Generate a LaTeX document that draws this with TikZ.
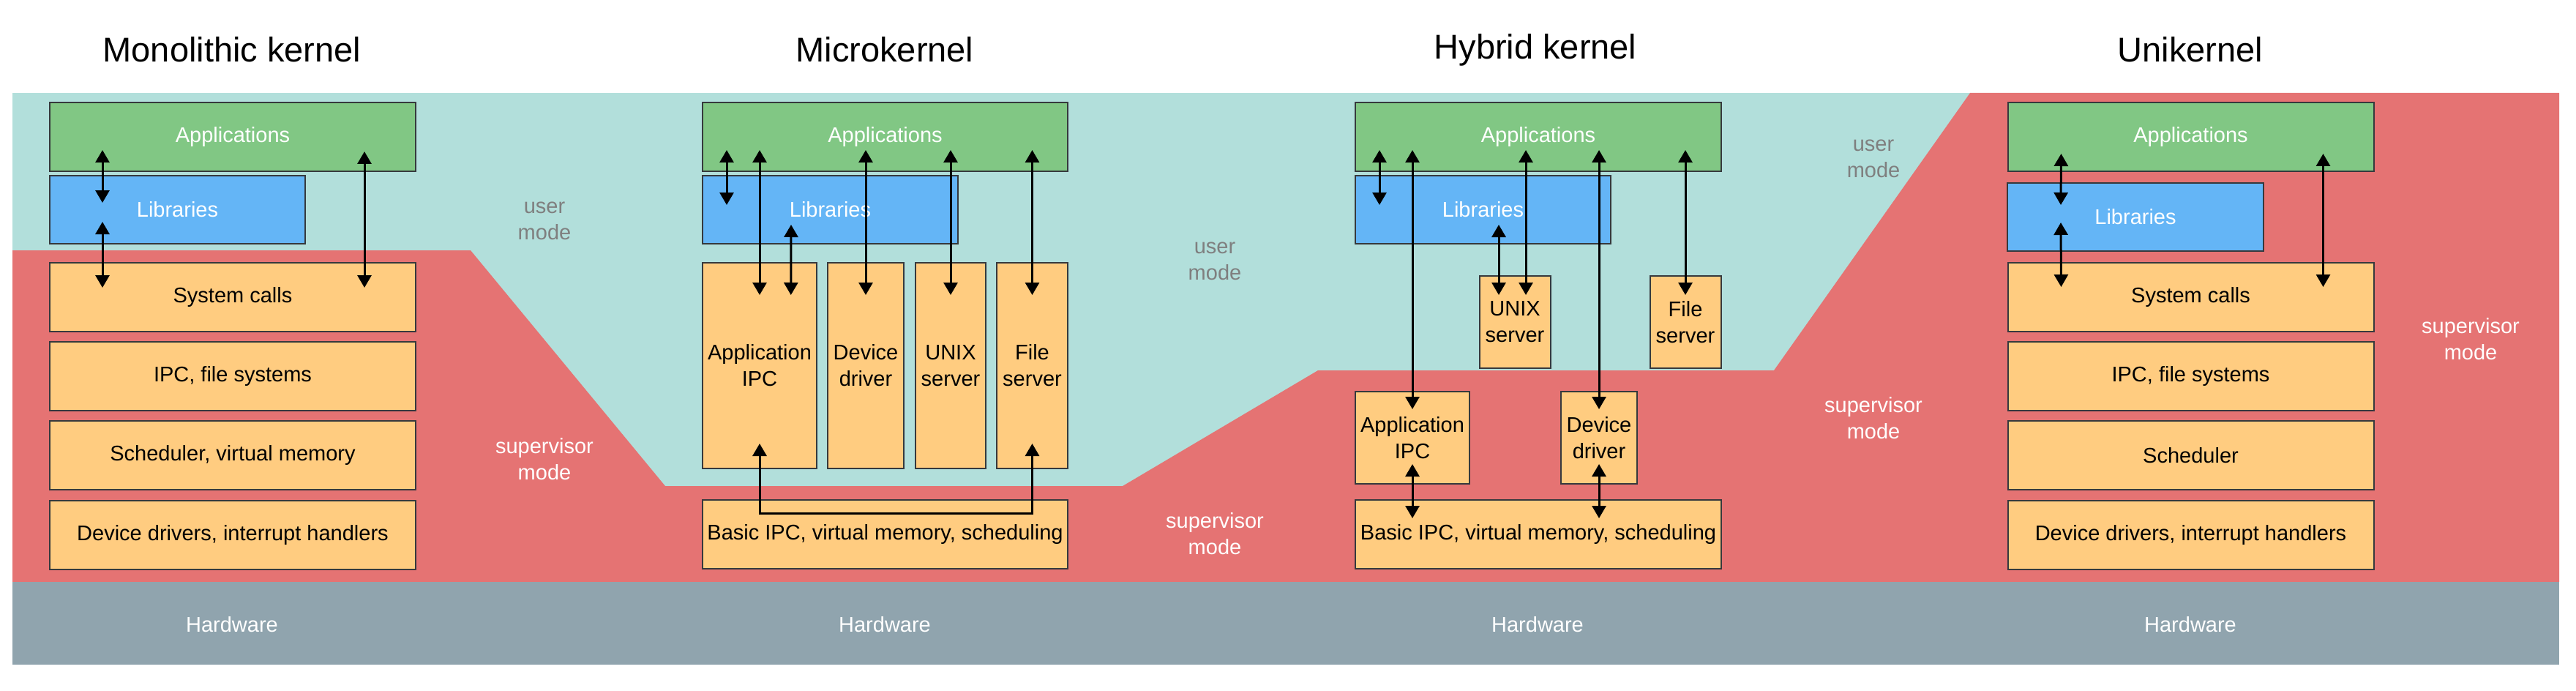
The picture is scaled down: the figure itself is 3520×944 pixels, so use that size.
\documentclass[tikz,border=0pt]{standalone}
\usepackage{fontspec}
\setmainfont{Liberation Sans}
\usetikzlibrary{arrows.meta,calc}
\definecolor{cyanbg}{HTML}{B2DFDB}
\definecolor{redbg}{HTML}{E57373}
\definecolor{hwgray}{HTML}{90A4AE}
\definecolor{appgreen}{HTML}{81C784}
\definecolor{libblue}{HTML}{64B5F6}
\definecolor{kerorange}{HTML}{FFCC80}
\definecolor{boxline}{HTML}{36393D}
\definecolor{modegray}{HTML}{7F7F7F}
\tikzset{
  bx/.style={draw=boxline, line width=2pt, inner sep=0pt, outer sep=0pt, align=center, font=\fontsize{29}{36}\selectfont},
  appbox/.style={bx, fill=appgreen, text=white},
  libbox/.style={bx, fill=libblue, text=white},
  kbox/.style={bx, fill=kerorange, text=black},
  sz/.style 2 args={minimum width=#1pt, minimum height=#2pt},
  dbl/.style={{Triangle[width=19pt,length=17pt]}-{Triangle[width=19pt,length=17pt]}, line width=3pt, black},
  titlelbl/.style={font=\fontsize{47}{56}\selectfont, anchor=base, inner sep=0pt},
  usermode/.style={text=modegray, align=center, inner sep=0pt, font=\fontsize{29}{36}\selectfont},
  supmode/.style={text=white, align=center, inner sep=0pt, font=\fontsize{29}{36}\selectfont},
  hwlbl/.style={text=white, inner sep=0pt, font=\fontsize{29}{36}\selectfont}
}
\begin{document}
\begin{tikzpicture}[x=1pt,y=-1pt]
\useasboundingbox (0,0) rectangle (3520,944);
% backgrounds
\fill[cyanbg] (17,127) rectangle (3497,795);
\fill[redbg] (17,342) -- (643,342) -- (909,664) -- (1534,664) -- (1801,506) -- (2424,506) -- (2692,127) -- (3497,127) -- (3497,795) -- (17,795) -- cycle;
\fill[hwgray] (17,795) rectangle (3497,908);

% titles
\node[titlelbl] (t1) at (317,85) {Monolithic kernel};
\node[titlelbl] (t2) at (1209,85) {Microkernel};
\node[titlelbl] (t3) at (2098,81) {Hybrid kernel};
\node[titlelbl] (t4) at (2993,85) {Unikernel};

% hardware labels
\node[hwlbl] (hw1) at (317,853) {Hardware};
\node[hwlbl] (hw2) at (1209,853) {Hardware};
\node[hwlbl] (hw3) at (2101,853) {Hardware};
\node[hwlbl] (hw4) at (2993,853) {Hardware};

% mode labels
\node[usermode] (um1) at (744,302) {user\\mode};
\node[supmode] (sm1) at (744,627) {supervisor\\mode};
\node[usermode] (um2) at (1660,357) {user\\mode};
\node[supmode] (sm2) at (1660,729) {supervisor\\mode};
\node[usermode] (um3) at (2560,217) {user\\mode};
\node[supmode] (sm3) at (2560,571) {supervisor\\mode};
\node[supmode] (sm4) at (3376,463) {supervisor\\mode};

% Monolithic kernel
\node[appbox, sz={500}{94}] (mA) at (318,187) {Applications};
\node[libbox, sz={349}{93}] (mL) at (242.5,286.5) {Libraries};
\node[kbox, sz={500}{94}] (mS) at (318,406) {System calls};
\node[kbox, sz={500}{94}] (mI) at (318,514) {IPC, file systems};
\node[kbox, sz={500}{94}] (mV) at (318,622) {Scheduler, virtual memory};
\node[kbox, sz={500}{94}] (mD) at (318,731) {Device drivers, interrupt handlers};

% Microkernel
\node[appbox, sz={499}{94}] (kA) at (1209.5,187) {Applications};
\node[libbox, sz={349}{93}] (kL) at (1134.5,286.5) {Libraries};
\node[kbox, sz={156.5}{281}] (kP) at (1038,499.5) {Application\\IPC};
\node[kbox, sz={104}{281}] (kD) at (1183,499.5) {Device\\driver};
\node[kbox, sz={96}{281}] (kU) at (1299,499.5) {UNIX\\server};
\node[kbox, sz={97}{281}] (kF) at (1410.5,499.5) {File\\server};
\node[kbox, sz={499}{94}] (kB) at (1209.5,730) {Basic IPC, virtual memory, scheduling};

% Hybrid kernel
\node[appbox, sz={500}{94}] (hA) at (2102,187) {Applications};
\node[libbox, sz={349}{93}] (hL) at (2026.5,286.5) {Libraries};
\node[kbox, sz={97}{126}] (hU) at (2070,440) {UNIX\\server};
\node[kbox, sz={97}{126}] (hF) at (2303,440) {File\\server};
\node[kbox, sz={156.5}{126}] (hP) at (1930,598) {Application\\IPC};
\node[kbox, sz={104}{126}] (hD) at (2185,598) {Device\\driver};
\node[kbox, sz={500}{94}] (hB) at (2102,730) {Basic IPC, virtual memory, scheduling};

% Unikernel
\node[appbox, sz={500}{94}] (nA) at (2993.5,187) {Applications};
\node[libbox, sz={350}{93}] (nL) at (2918,296.5) {Libraries};
\node[kbox, sz={500}{94}] (nS) at (2993.5,406) {System calls};
\node[kbox, sz={500}{94}] (nI) at (2993.5,514) {IPC, file systems};
\node[kbox, sz={500}{94}] (nV) at (2993.5,622) {Scheduler};
\node[kbox, sz={500}{94}] (nD) at (2993.5,731) {Device drivers, interrupt handlers};

% Monolithic arrows
\draw[dbl] ($(mA.south west)+(72,-29)$) -- ($(mL.north west)+(72,37)$);
\draw[dbl] ($(mL.south west)+(72,-30)$) -- ($(mS.north west)+(72,34)$);
\draw[dbl] ($(mA.south west)+(430,-27)$) -- ($(mS.north west)+(430,34)$);

% Microkernel arrows
\draw[dbl] ($(kA.south west)+(33,-29)$) -- ($(kL.north west)+(33,40)$);
\draw[dbl] ($(kA.south -| kP)+(0,-29)$) -- ($(kP.north)+(0,44)$);
\draw[dbl] ($(kL.south west)+(121,-26)$) -- ($(kP.north west)+(121,44)$);
\draw[dbl] ($(kA.south -| kD)+(0,-29)$) -- ($(kD.north)+(0,44)$);
\draw[dbl] ($(kA.south -| kU)+(0,-29)$) -- ($(kU.north)+(0,44)$);
\draw[dbl] ($(kA.south -| kF)+(0,-29)$) -- ($(kF.north)+(0,44)$);
\draw[dbl] ($(kP.south)+(0,-34)$) -- ++(0,95.5) -| ($(kF.south)+(0,-34)$);

% Hybrid arrows
\draw[dbl] ($(hA.south west)+(33,-29)$) -- ($(hL.north west)+(33,40)$);
\draw[dbl] ($(hA.south -| hP)+(0,-29)$) -- ($(hP.north)+(0,24)$);
\draw[dbl] ($(hL.south west)+(196,-26)$) -- ($(hL.south west |- hU.north)+(196,26)$);
\draw[dbl] ($(hA.south west)+(233,-29)$) -- ($(hA.south west |- hU.north)+(233,26)$);
\draw[dbl] ($(hA.south -| hD)+(0,-29)$) -- ($(hD.north)+(0,24)$);
\draw[dbl] ($(hA.south -| hF)+(0,-29)$) -- ($(hF.north)+(0,26)$);
\draw[dbl] ($(hP.south)+(0,-27)$) -- ($(hB.north -| hP)+(0,25)$);
\draw[dbl] ($(hD.south)+(0,-27)$) -- ($(hB.north -| hD)+(0,25)$);

% Unikernel arrows
\draw[dbl] ($(nA.south west)+(73,-24)$) -- ($(nL.north west)+(73,30)$);
\draw[dbl] ($(nL.south west)+(73,-39)$) -- ($(nS.north west)+(73,33)$);
\draw[dbl] ($(nA.south west)+(431,-24)$) -- ($(nS.north west)+(431,33)$);
\end{tikzpicture}
\end{document}
